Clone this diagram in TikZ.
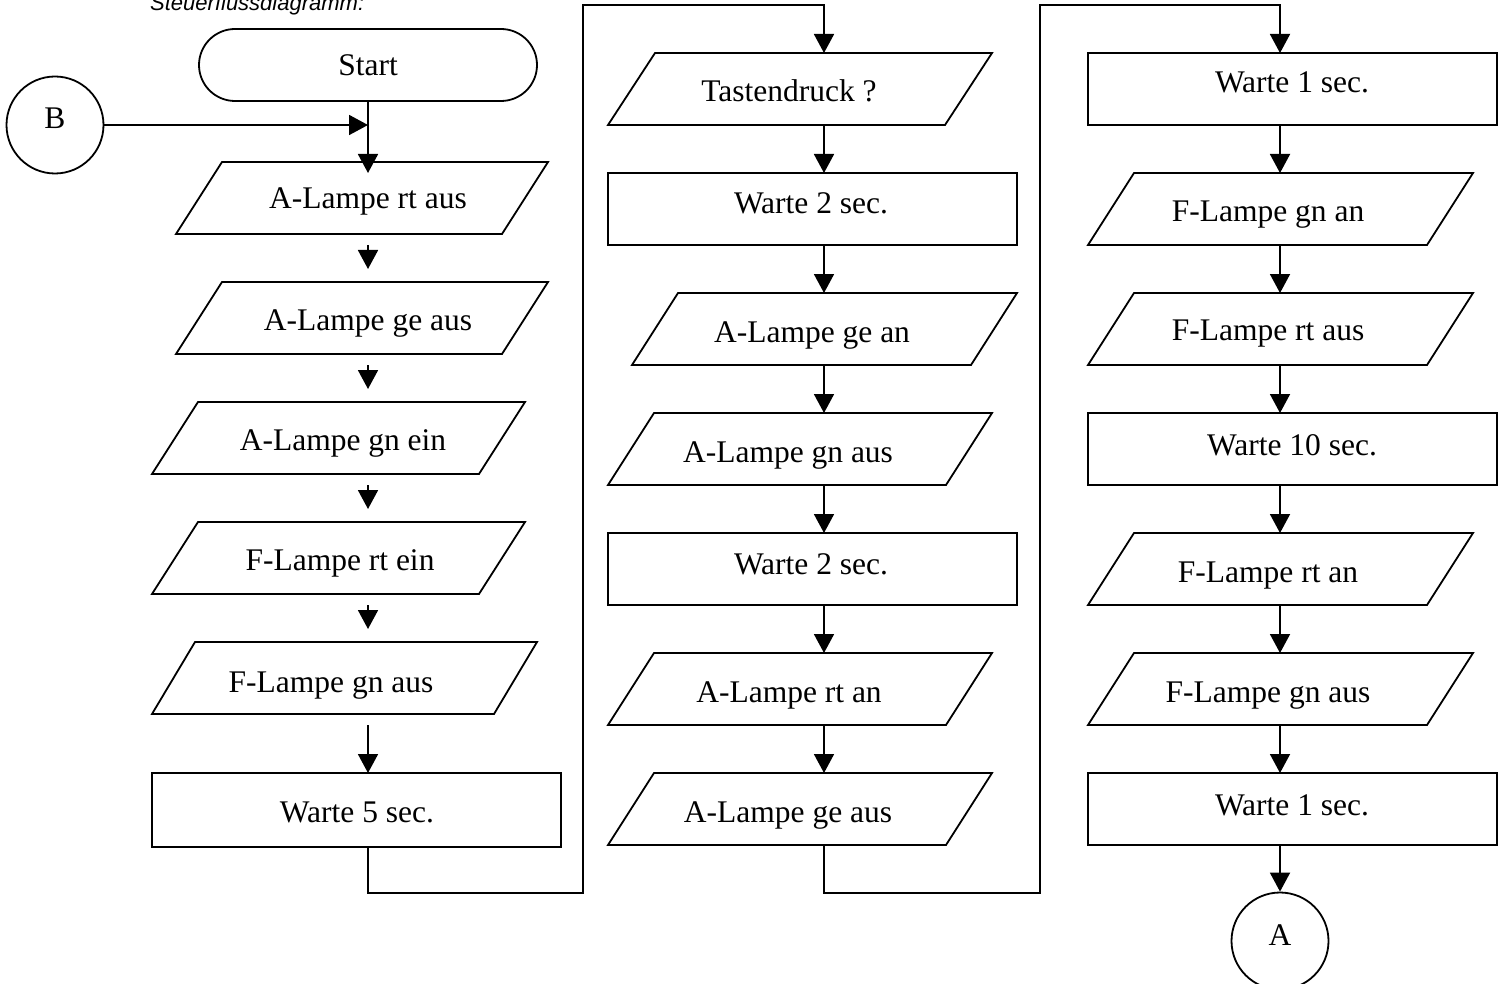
\documentclass[tikz,border=0pt]{standalone}
\usepackage{fontspec}
\setmainfont{Liberation Serif}
\newfontfamily\headfont{Liberation Sans}
\usetikzlibrary{arrows.meta,fit,calc}
\newcommand\mkPara[4]{%
  \node[pbox, fit={#2 #3}] (#1) {};
  \draw[lw, line join=miter] (#1.south west) -- ($(#1.south east)+(-#4,0)$) -- (#1.north east) -- ($(#1.north west)+(#4,0)$) -- cycle;}
\newcommand\mkRect[3]{\node[rbox, fit={#2 #3}] (#1) {};}
\begin{document}
\begin{tikzpicture}[x=1pt,y=-1pt,
  lw/.style={line width=1.8pt},
  pbox/.style={inner sep=0pt, outer sep=0pt},
  rbox/.style={draw, lw, inner sep=0pt, outer sep=0pt},
  conn/.style={lw, -{Triangle[length=19pt,width=20pt]}},
  txt/.style={anchor=base, inner sep=0pt, font=\fontsize{31.5}{36}\selectfont},
  circ/.style={draw, lw, circle, inner sep=0pt, minimum size=97pt}]
\useasboundingbox (0,0) rectangle (1506,984);
% heading (cut off at top, as in the reference)
\node[anchor=base west, inner sep=0pt, font=\headfont\itshape\fontsize{22}{26}\selectfont] (title) at (150,11) {Steuerflussdiagramm:};
% axes
\coordinate (ax1) at (368,0);
\coordinate (ax2) at (824,0);
\coordinate (ax3) at (1280,0);
% column 1
\node[rbox, rounded corners=36pt, fit={(199,29) (537,101)}] (start) {};
\node[circ] (B) at (55,125) {};
\mkPara{p1}{(176,162)}{(548,234)}{46}
\mkPara{p2}{(176,282)}{(548,354)}{46}
\mkPara{p3}{(152,402)}{(525,474)}{46}
\mkPara{p4}{(152,522)}{(525,594)}{46}
\mkPara{p5}{(152,642)}{(537,714)}{43}
\mkRect{w5}{(152,773)}{(561,847)}
% column 2
\mkPara{td}{(608,53)}{(992,125)}{47}
\mkRect{w2a}{(608,173)}{(1017,245)}
\mkPara{q3}{(632,293)}{(1017,365)}{46}
\mkPara{q4}{(608,413)}{(992,485)}{46}
\mkRect{w2b}{(608,533)}{(1017,605)}
\mkPara{q6}{(608,653)}{(992,725)}{46}
\mkPara{q7}{(608,773)}{(992,845)}{46}
% column 3
\mkRect{w1a}{(1088,53)}{(1497,125)}
\mkPara{r2}{(1088,173)}{(1473,245)}{46}
\mkPara{r3}{(1088,293)}{(1473,365)}{46}
\mkRect{w10}{(1088,413)}{(1497,485)}
\mkPara{r5}{(1088,533)}{(1473,605)}{46}
\mkPara{r6}{(1088,653)}{(1473,725)}{46}
\mkRect{w1b}{(1088,773)}{(1497,845)}
\node[circ] (A) at (1280,941) {};
% texts
\node[txt] (startt) at (368,76) {Start};
\node[txt] (Bt) at (55,129) {B};
\node[txt] (p1t) at (368,209) {A-Lampe rt aus};
\node[txt] (p2t) at (368,330) {A-Lampe ge aus};
\node[txt] (p3t) at (343,450) {A-Lampe gn ein};
\node[txt] (p4t) at (340,570) {F-Lampe rt ein};
\node[txt] (p5t) at (331,692) {F-Lampe gn aus};
\node[txt] (w5t) at (357,822) {Warte 5 sec.};
\node[txt] (tdt) at (789,102) {Tastendruck ?};
\node[txt] (w2at) at (811,214) {Warte 2 sec.};
\node[txt] (q3t) at (812,342) {A-Lampe ge an};
\node[txt] (q4t) at (788,462) {A-Lampe gn aus};
\node[txt] (w2bt) at (811,574) {Warte 2 sec.};
\node[txt] (q6t) at (789,702) {A-Lampe rt an};
\node[txt] (q7t) at (788,822) {A-Lampe ge aus};
\node[txt] (w1at) at (1292,93) {Warte 1 sec.};
\node[txt] (r2t) at (1268,222) {F-Lampe gn an};
\node[txt] (r3t) at (1268,340) {F-Lampe rt aus};
\node[txt] (w10t) at (1292,455) {Warte 10 sec.};
\node[txt] (r5t) at (1268,582) {F-Lampe rt an};
\node[txt] (r6t) at (1268,702) {F-Lampe gn aus};
\node[txt] (w1bt) at (1292,815) {Warte 1 sec.};
\node[txt] (At) at (1280,945) {A};
% connectors column 1
\draw[conn] (B.east) -- (B.east -| ax1);
\draw[conn] (start.south -| ax1) -- ($(p1.north -| ax1)+(0,11)$);
\draw[conn] ($(p1.south -| ax1)+(0,11)$) -- ($(p2.north -| ax1)+(0,-13)$);
\draw[conn] ($(p2.south -| ax1)+(0,11)$) -- ($(p3.north -| ax1)+(0,-13)$);
\draw[conn] ($(p3.south -| ax1)+(0,11)$) -- ($(p4.north -| ax1)+(0,-13)$);
\draw[conn] ($(p4.south -| ax1)+(0,11)$) -- ($(p5.north -| ax1)+(0,-13)$);
\draw[conn] ($(p5.south -| ax1)+(0,11)$) -- (w5.north -| ax1);
\coordinate (k1) at (583,893);
\coordinate (k2) at (583,5);
\draw[conn, line join=miter] (w5.south -| ax1) |- (k1) -- (k2) -| (td.north -| ax2);
% column 2
\draw[conn] (td.south -| ax2) -- (w2a.north -| ax2);
\draw[conn] (w2a.south -| ax2) -- (q3.north -| ax2);
\draw[conn] (q3.south -| ax2) -- (q4.north -| ax2);
\draw[conn] (q4.south -| ax2) -- (w2b.north -| ax2);
\draw[conn] (w2b.south -| ax2) -- (q6.north -| ax2);
\draw[conn] (q6.south -| ax2) -- (q7.north -| ax2);
\coordinate (k3) at (1040,893);
\coordinate (k4) at (1040,5);
\draw[conn, line join=miter] (q7.south -| ax2) |- (k3) -- (k4) -| (w1a.north -| ax3);
% column 3
\draw[conn] (w1a.south -| ax3) -- (r2.north -| ax3);
\draw[conn] (r2.south -| ax3) -- (r3.north -| ax3);
\draw[conn] (r3.south -| ax3) -- (w10.north -| ax3);
\draw[conn] (w10.south -| ax3) -- (r5.north -| ax3);
\draw[conn] (r5.south -| ax3) -- (r6.north -| ax3);
\draw[conn] (r6.south -| ax3) -- (w1b.north -| ax3);
\draw[conn] (w1b.south -| ax3) -- (A.north);
\end{tikzpicture}
\end{document}
